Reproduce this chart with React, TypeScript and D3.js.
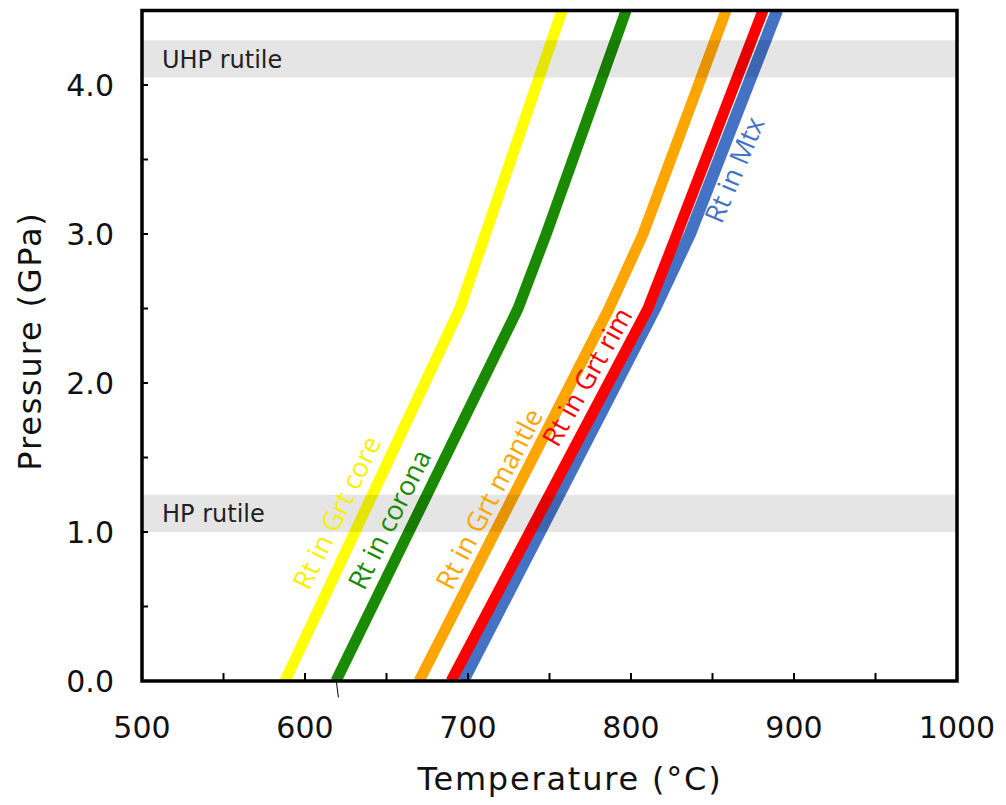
import React from "react";
import * as d3 from "d3";

const pressures = [0, 2.5, 3.0, 4.5];
const yellowT = [587.7, 695, 710.7, 757.7];
const greenT = [619, 730.7, 748, 797];
const orangeT = [670, 786.5, 807.4, 858.3];
const redT = [689.6, 810.4, 828.2, 881];
const blueT = [697, 814.7, 836.2, 889.6];

const xTickLabels = [500, 600, 700, 800, 900, 1000];
const xMinorTicks = [550, 600, 650, 700, 750, 800, 850, 900, 950];
const yTickLabels = [0, 1, 2, 3, 4];
const yMinorTicks = [0.5, 1, 1.5, 2, 2.5, 3, 3.5, 4];

const bands = [
  { name: "UHP rutile", lo: 4.05, hi: 4.3 },
  { name: "HP rutile", lo: 1.0, hi: 1.25 },
];

const series = [
  { name: "Rt in Grt core", temps: yellowT, color: "#ffff00", width: 11 },
  { name: "Rt in corona", temps: greenT, color: "#1a8a00", width: 11 },
  { name: "Rt in Grt mantle", temps: orangeT, color: "#ffa500", width: 11 },
  { name: "Rt in Mtx", temps: blueT, color: "#4472c4", width: 12 },
  { name: "Rt in Grt rim", temps: redT, color: "#ff0000", width: 11 },
];

// label anchors in data coordinates (T, P) and angle
const labelPos = [
  { name: "Rt in Grt core", T: 602.5, P: 0.6, angle: -64, color: "#f7f000" },
  { name: "Rt in corona", T: 636.3, P: 0.6, angle: -63.5, color: "#1a8a00" },
  { name: "Rt in Grt mantle", T: 690, P: 0.6, angle: -62.5, color: "#ffa500" },
  { name: "Rt in Grt rim", T: 755, P: 1.56, angle: -60.5, color: "#ff0000" },
  { name: "Rt in Mtx", T: 855.5, P: 3.06, angle: -67, color: "#4472c4" },
];

export default function App() {
  const W = 1006;
  const H = 805;
  const x = d3.scaleLinear().domain([500, 1000]).range([142, 957]);
  const y = d3.scaleLinear().domain([0, 4.5]).range([681, 10.5]);
  const line = d3
    .line<[number, number]>()
    .x((d) => x(d[0]))
    .y((d) => y(d[1]));
  const font = "'DejaVu Sans', Verdana, sans-serif";
  const labelFont = "'Open Sans', 'Noto Sans', sans-serif";
  const [x0, x1] = x.range();
  const [y0, y1] = y.range();

  return (
    <div style={{ position: "absolute", left: 0, top: 0 }}>
      <svg width={W} height={H} style={{ display: "block", background: "#fff" }}>
        <defs>
          <clipPath id="plot">
            <rect x={x0} y={y1} width={x1 - x0} height={y0 - y1} />
          </clipPath>
        </defs>
        <g clipPath="url(#plot)">
          {series.map((s) => (
            <path
              key={s.name}
              d={line(s.temps.map((t, i) => [t, pressures[i]] as [number, number])) || ""}
              fill="none"
              stroke={s.color}
              strokeWidth={s.width}
              strokeLinejoin="round"
            />
          ))}
          {bands.map((b) => (
            <rect
              key={b.name}
              x={x0}
              width={x1 - x0}
              y={y(b.hi)}
              height={y(b.lo) - y(b.hi)}
              fill="#000"
              fillOpacity={0.1}
            />
          ))}
        </g>
        {bands.map((b) => (
          <text
            key={b.name + "t"}
            x={x0 + 20}
            y={(y(b.hi) + y(b.lo)) / 2}
            dy="0.36em"
            fontFamily={font}
            fontSize={24}
            fill="#222"
          >
            {b.name}
          </text>
        ))}
        {labelPos.map((l) => (
          <text
            key={l.name}
            transform={`translate(${x(l.T)},${y(l.P)}) rotate(${l.angle})`}
            fontFamily={labelFont}
            fontSize={27}
            fill={l.color}
          >
            {l.name}
          </text>
        ))}
        {/* stray mark below axis */}
        <line x1={x(619.2)} y1={y(0)} x2={x(620.5)} y2={y(-0.11)} stroke="#000" strokeWidth={1} />
        {/* ticks */}
        {xMinorTicks.map((t) => (
          <line key={"xt" + t} x1={x(t)} x2={x(t)} y1={y0} y2={y0 - 8} stroke="#000" strokeWidth={2} />
        ))}
        {yMinorTicks.map((t) => (
          <line key={"yt" + t} x1={x0} x2={x0 + 6} y1={y(t)} y2={y(t)} stroke="#000" strokeWidth={2} />
        ))}
        <rect
          x={x0}
          y={y1}
          width={x1 - x0}
          height={y0 - y1}
          fill="none"
          stroke="#000"
          strokeWidth={3.5}
        />
        {xTickLabels.map((t) => (
          <text
            key={"xl" + t}
            x={x(t)}
            y={738}
            textAnchor="middle"
            fontFamily={font}
            fontSize={30}
            fill="#111"
          >
            {t}
          </text>
        ))}
        {yTickLabels.map((t) => (
          <text
            key={"yl" + t}
            x={114}
            y={y(t)}
            dy="0.36em"
            textAnchor="end"
            fontFamily={font}
            fontSize={30}
            fill="#111"
          >
            {t.toFixed(1)}
          </text>
        ))}
        <text
          x={570}
          y={790}
          textAnchor="middle"
          fontFamily={font}
          fontSize={32}
          letterSpacing={1.8}
          fill="#111"
        >
          Temperature (°C)
        </text>
        <text
          transform={`translate(41,341) rotate(-90)`}
          textAnchor="middle"
          fontFamily={font}
          fontSize={32}
          letterSpacing={1.8}
          fill="#111"
        >
          Pressure (GPa)
        </text>
      </svg>
    </div>
  );
}
